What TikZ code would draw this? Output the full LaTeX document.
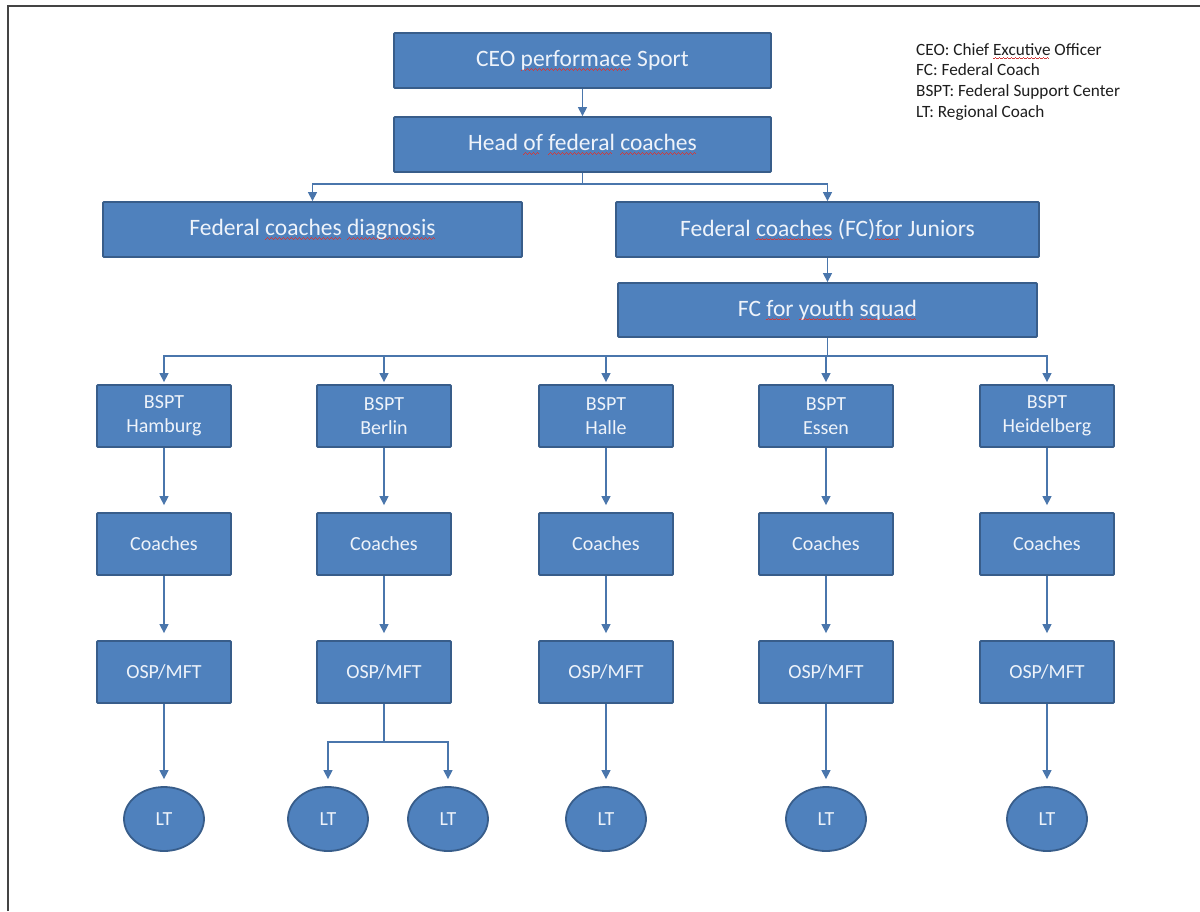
\documentclass[tikz,border=0pt]{standalone}
\usepackage{fontspec}
\setmainfont{Carlito}
\usetikzlibrary{arrows.meta,shapes.geometric}

% colours of the chart
\definecolor{boxfill}{HTML}{4F81BD}
\definecolor{boxline}{HTML}{385D8A}
\definecolor{boxtext}{HTML}{EEF3FA}
\definecolor{linecol}{HTML}{4A76AC}
\definecolor{framecol}{HTML}{444444}
\definecolor{legendcol}{HTML}{1E1E1E}
\definecolor{squig}{HTML}{D03A3A}

% red wavy underline for words flagged by the spell checker
\newcommand\wavecell{\rule[-4.2pt]{1pt}{0.9pt}\rule[-3.4pt]{1pt}{0.9pt}\rule[-2.7pt]{1pt}{0.9pt}\rule[-3.4pt]{1pt}{0.9pt}}
\newcommand\sq[1]{\setbox0=\hbox{#1}\rlap{\textcolor{squig}{\leaders\hbox{\wavecell}\hskip\wd0}}\box0\relax}

\tikzset{
  box/.style={draw=boxline, line width=1.8pt, fill=boxfill, rounded corners=1pt,
    text=boxtext, inner sep=0pt, align=center, font=\fontsize{20}{24}\selectfont},
  bigbox/.style={box, minimum height=55pt, font=\fontsize{23.5}{28}\selectfont},
  unit/.style={box, minimum width=134pt, minimum height=62pt},
  ltnode/.style={ellipse, draw=boxline, line width=1.8pt, fill=boxfill, text=boxtext,
    minimum width=80pt, minimum height=64pt, inner sep=0pt, font=\fontsize{20}{24}\selectfont},
  trunk/.style={draw=linecol, line width=1.3pt},
  link/.style={trunk, -{Triangle[width=9pt,length=9pt]}},
  gap/.style={shorten >=7pt},
}

\begin{document}
\begin{tikzpicture}[x=1pt,y=-1pt]
\useasboundingbox (0,0) rectangle (1200,911);
\fill[white] (0,0) rectangle (1200,911);
\draw[framecol, line width=1.5pt] (8,911) -- (8,6) -- (1200,6);

% upper hierarchy
\node[bigbox, minimum width=377pt] (ceo)  at (582.5,60.5)  {CEO \sq{performace} Sport};
\node[bigbox, minimum width=377pt] (head) at (582.5,144.5) {Head \sq{of} \sq{federal} \sq{coaches}};
\node[bigbox, minimum width=419pt] (diag) at (312.5,229.5) {Federal \sq{coaches} \sq{diagnosis}};
\node[bigbox, minimum width=423pt] (jun)  at (827.5,229.5) {Federal \sq{coaches} (FC)\sq{for} Juniors};
\node[bigbox, minimum width=419pt, minimum height=54pt] (youth) at (827.5,310) {FC \sq{for} \sq{youth} \sq{squad}};

% legend
\node[anchor=north west, align=left, inner sep=0pt, text=legendcol,
      font=\fontsize{17.2}{20.7}\selectfont] (legend) at (916,43)
  {CEO: Chief \sq{Excutive} Officer\\FC: Federal Coach\\BSPT: Federal Support Center\\LT: Regional Coach};

\draw[link] (ceo.south) -- (head.north);
\coordinate (split1) at (582.5,184);
\draw[trunk] (head.south) -- (split1);
\draw[link] (split1) -| (diag.north);
\draw[link] (split1) -| (jun.north);
\draw[link] (jun.south) -- (youth.north);

% federal support centres
\foreach \i/\x/\city in {1/164/Hamburg, 2/384/Berlin, 3/606/Halle, 4/826/Essen, 5/1047/Heidelberg}{
  \node[unit] (b\i) at (\x,416) {BSPT\\\city};
  \node[unit] (c\i) at (\x,544) {Coaches};
  \node[unit] (o\i) at (\x,672) {OSP/MFT};
  \draw[link, gap] (b\i.south) -- (c\i.north);
  \draw[link, gap] (c\i.south) -- (o\i.north);
}

\coordinate (split2) at (827.5,356);
\draw[trunk] (youth.south) -- (split2);
\foreach \i in {1,...,5}{
  \draw[link, shorten >=2pt] (split2) -| (b\i.north);
}

% regional coaches
\node[ltnode] (l1)  at (164,819)  {LT};
\node[ltnode] (l2a) at (328,819)  {LT};
\node[ltnode] (l2b) at (448,819)  {LT};
\node[ltnode] (l3)  at (606,819)  {LT};
\node[ltnode] (l4)  at (826,819)  {LT};
\node[ltnode] (l5)  at (1047,819) {LT};

\draw[link, gap] (o1.south) -- (l1.north);
\draw[link, gap] (o3.south) -- (l3.north);
\draw[link, gap] (o4.south) -- (l4.north);
\draw[link, gap] (o5.south) -- (l5.north);
\coordinate (split3) at (384,742);
\draw[trunk] (o2.south) -- (split3);
\draw[link, gap] (split3) -| (l2a.north);
\draw[link, gap] (split3) -| (l2b.north);
\end{tikzpicture}
\end{document}
